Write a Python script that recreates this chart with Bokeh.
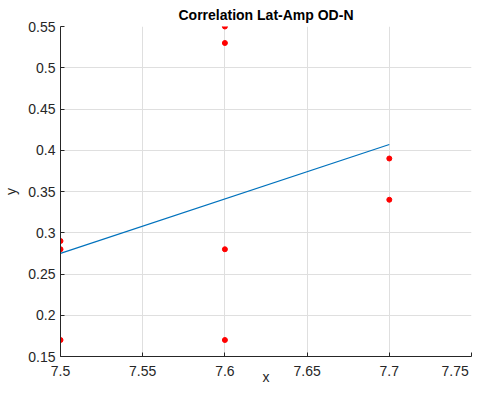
from bokeh.plotting import figure
from bokeh.models import Range1d, FixedTicker
from bokeh.embed import file_html
from bokeh.resources import INLINE

# data
pts_x = [7.5, 7.5, 7.5, 7.6, 7.6, 7.6, 7.6, 7.7, 7.7]
pts_y = [0.17, 0.28, 0.29, 0.55, 0.53, 0.28, 0.17, 0.39, 0.34]
fit_x = [7.5, 7.7]
fit_y = [0.275, 0.407]

x_ticks = [7.5, 7.55, 7.6, 7.65, 7.7, 7.75]
x_tick_labels = ["7.5", "7.55", "7.6", "7.65", "7.7", "7.75"]
y_ticks = [0.15, 0.2, 0.25, 0.3, 0.35, 0.4, 0.45, 0.5, 0.55]
y_tick_labels = ["0.15", "0.2", "0.25", "0.3", "0.35", "0.4", "0.45", "0.5", "0.55"]

FONT = "Liberation Sans"
TXT = "#262626"

p = figure(width=476, height=387, output_backend="svg", toolbar_location=None,
           x_range=Range1d(7.5, 7.75), y_range=Range1d(0.15, 0.55),
           title="Correlation Lat-Amp OD-N",
           min_border_left=49, min_border_right=5, min_border_top=25, min_border_bottom=28)

p.title.align = "center"
p.title.text_font = FONT
p.title.text_font_size = "14px"
p.title.text_font_style = "bold"
p.title.text_color = "#000000"
p.title.standoff = 8
p.title.offset = 0

p.outline_line_color = None
p.background_fill_color = "white"
p.border_fill_color = "white"

p.xaxis.ticker = FixedTicker(ticks=x_ticks)
p.yaxis.ticker = FixedTicker(ticks=y_ticks)
# last label sits at the right edge: pad it so it stays inside the canvas
x_over = {t: l for t, l in zip(x_ticks, x_tick_labels)}
x_over[x_ticks[-1]] = x_tick_labels[-1] + "\u2007"
p.xaxis.major_label_overrides = x_over
p.yaxis.major_label_overrides = {t: l for t, l in zip(y_ticks, y_tick_labels)}
p.xaxis.axis_label = "x"
p.yaxis.axis_label = "y"

for ax in (p.xaxis[0], p.yaxis[0]):
    ax.axis_line_color = TXT
    ax.axis_line_width = 1
    ax.major_tick_line_color = TXT
    ax.major_tick_in = 4
    ax.major_tick_out = 0
    ax.minor_tick_line_color = None
    ax.major_label_text_font = FONT
    ax.major_label_text_font_size = "14px"
    ax.major_label_text_color = TXT
    ax.axis_label_text_font = FONT
    ax.axis_label_text_font_size = "14px"
    ax.axis_label_text_font_style = "normal"
    ax.axis_label_text_color = TXT

p.xaxis.major_label_standoff = 6
p.xaxis.axis_label_standoff = -13
p.yaxis.major_label_standoff = 5
p.yaxis.axis_label_standoff = 6

p.grid.grid_line_color = "#dfdfdf"
p.grid.grid_line_width = 1

p.line(fit_x, fit_y, line_color="#0072BD", line_width=1.2)
p.scatter(pts_x, pts_y, size=5, fill_color="#ff0000", line_color="#ff0000", marker="circle")

open("out.html", "w").write(file_html(p, INLINE))
